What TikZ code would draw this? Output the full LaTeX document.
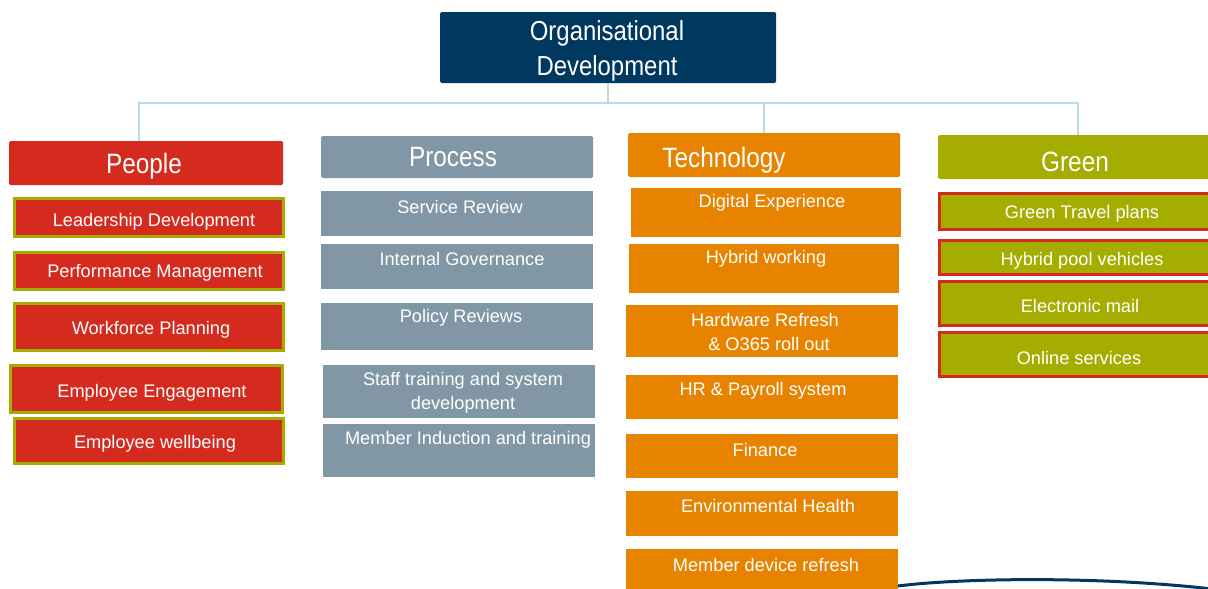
\documentclass[tikz,border=0pt]{standalone}
\usepackage{fontspec}
\setmainfont{Liberation Sans}
\newfontfamily\narrowfont[FakeStretch=0.87]{Liberation Sans}
\definecolor{navy}{RGB}{0,56,96}
\definecolor{pred}{RGB}{213,43,30}
\definecolor{olive}{RGB}{165,173,0}
\definecolor{pgrey}{RGB}{129,151,166}
\definecolor{torange}{RGB}{232,131,0}
\definecolor{connc}{RGB}{183,221,232}
\tikzset{
  boxbase/.style={inner sep=0pt, outer sep=0pt, anchor=center},
  head/.style={boxbase, rounded corners=1.5pt},
  peoplehead/.style={head, fill=pred},
  processhead/.style={head, fill=pgrey},
  techhead/.style={head, fill=torange},
  greenhead/.style={head, fill=olive},
  peopleitem/.style={boxbase, fill=pred, draw=olive, line width=3pt},
  processitem/.style={boxbase, fill=pgrey},
  techitem/.style={boxbase, fill=torange},
  greenitem/.style={boxbase, fill=olive, draw=pred, line width=3pt},
  itemtext/.style={text=white, align=center, inner sep=0pt, font=\fontsize{18.2}{24}\selectfont},
  headtext/.style={text=white, align=center, inner sep=0pt, font=\narrowfont\fontsize{28}{35}\selectfont},
  conn/.style={draw=connc, line width=2pt}
}
% #1 style, #2 name, #3 x1, #4 y1, #5 x2, #6 y2
\newcommand\mybox[6]{%
  \node[#1, minimum width={(#5-#3)*1pt}, minimum height={(#6-#4)*1pt}] (#2) at ({(#3+#5)/2},{(#4+#6)/2}) {};}
% #1 style, #2 name, #3 x, #4 y, #5 text
\newcommand\mytext[5]{\node[#1] (#2) at (#3,#4+2) {#5};}
\begin{document}
\begin{tikzpicture}[x=1pt,y=-1pt]
\useasboundingbox (0,0) rectangle (1208,589);
\clip (0,0) rectangle (1208,589);

% top node
\node[boxbase, rounded corners=1.5pt, fill=navy, minimum width=336pt, minimum height=71pt] (od) at (608,47.5) {};
\node[headtext, font=\narrowfont\fontsize{27.5}{35}\selectfont] (odt) at (607,51) {Organisational\\Development};

% headers
\mybox{peoplehead}{people}{9}{141}{283}{185}
\mybox{processhead}{process}{321}{136}{593}{178}
\mybox{techhead}{tech}{628}{133}{900}{177}
\mybox{greenhead}{green}{938}{135}{1216}{179}
\mytext{headtext}{peoplet}{144}{164}{People}
\mytext{headtext}{processt}{453}{155}{Process}
\mytext{headtext}{techt}{724}{158}{Technology}
\mytext{headtext}{greent}{1075}{160}{Green}

% connectors
\coordinate (bus) at (608,103);
\draw[conn] (od.south) -- (bus);
\draw[conn] (bus) -| ([xshift=-7pt]people.north);
\draw[conn] (bus) -| (tech.north);
\draw[conn] (bus) -| ([xshift=1pt]green.north);

% People items
\mybox{peopleitem}{p1}{14}{198}{283}{236}
\mybox{peopleitem}{p2}{14}{252}{283}{289}
\mybox{peopleitem}{p3}{14}{303}{283}{350}
\mybox{peopleitem}{p4}{10}{365}{282}{412}
\mybox{peopleitem}{p5}{14}{418}{283}{463}
\mytext{itemtext}{p1t}{154}{220}{Leadership Development}
\mytext{itemtext}{p2t}{155}{271}{Performance Management}
\mytext{itemtext}{p3t}{151}{328}{Workforce Planning}
\mytext{itemtext}{p4t}{152}{391}{Employee Engagement}
\mytext{itemtext}{p5t}{155}{442}{Employee wellbeing}

% Process items
\mybox{processitem}{r1}{321}{191}{593}{236}
\mybox{processitem}{r2}{321}{244}{593}{289}
\mybox{processitem}{r3}{321}{303}{593}{350}
\mybox{processitem}{r4}{323}{365}{595}{418}
\mybox{processitem}{r5}{323}{424}{595}{477}
\mytext{itemtext}{r1t}{460}{205}{Service Review}
\mytext{itemtext}{r2t}{462}{257}{Internal Governance}
\mytext{itemtext}{r3t}{461}{316}{Policy Reviews}
\mytext{itemtext}{r4t}{463}{391}{Staff training and system\\development}
\mytext{itemtext}{r5t}{468}{438}{Member Induction and training}

% Technology items
\mybox{techitem}{t1}{631}{188}{901}{237}
\mybox{techitem}{t2}{629}{244}{899}{293}
\mybox{techitem}{t3}{626}{305}{898}{357}
\mybox{techitem}{t4}{626}{375}{898}{419}
\mybox{techitem}{t5}{626}{434}{898}{478}
\mybox{techitem}{t6}{626}{491}{898}{536}
\mybox{techitem}{t7}{626}{549}{898}{595}
\mytext{itemtext}{t1t}{772}{201}{Digital Experience}
\mytext{itemtext}{t2t}{766}{257}{Hybrid working}
\mytext{itemtext}{t3t}{765}{330}{Hardware Refresh\\\hspace*{8pt}\& O365 roll out}
\mytext{itemtext}{t4t}{763}{389}{HR \& Payroll system}
\mytext{itemtext}{t5t}{765}{448}{Finance}
\mytext{itemtext}{t6t}{768}{504}{Environmental Health}
\mytext{itemtext}{t7t}{766}{563}{Member device refresh}

% Green items
\mybox{greenitem}{g1}{939}{193}{1216}{229}
\mybox{greenitem}{g2}{939}{240}{1216}{274}
\mybox{greenitem}{g3}{939}{281}{1216}{325}
\mybox{greenitem}{g4}{939}{332}{1216}{376}
\mytext{itemtext}{g1t}{1082}{212}{Green Travel plans}
\mytext{itemtext}{g2t}{1082}{259}{Hybrid pool vehicles}
\mytext{itemtext}{g3t}{1080}{304}{Electronic mail}
\mytext{itemtext}{g4t}{1079}{356}{Online services}

% decorative swoosh
\draw[navy, line width=3pt] (898,586) .. controls (960,578) and (1100,576) .. (1212,589);
\end{tikzpicture}
\end{document}
